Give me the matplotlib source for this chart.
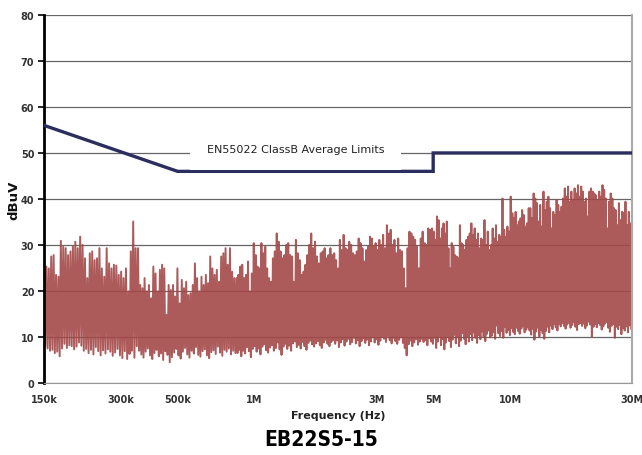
"""
Conducted emission scan of EB22S5-15 against the EN55022 class B average limit.
"""

import matplotlib
matplotlib.use("Agg")
import matplotlib.pyplot as plt
from matplotlib.ticker import FixedLocator, NullLocator
import numpy as np

# --- data --------------------------------------------------------------------
# limit line (Hz, dBuV)
limit_freq = [150e3, 500e3, 5e6, 5e6, 30e6]
limit_level = [56, 46, 46, 50, 50]

# scan split into bands; each band holds alternating peak / trough readings
band_edges = [150e3, 350e3, 850e3, 2.05e6, 4.95e6, 12e6, 30e6]

peaks = [
    [27.1, 25.3, 24.9, 27.5, 27.8, 23.5, 23.1, 30.9, 29.6, 29.3, 27.8, 28.6, 29.6,
     30.7, 29.3, 31.8, 30.0, 27.1, 22.8, 28.2, 28.6, 26.7, 27.1, 29.3, 24.9, 23.1,
     29.3, 26.0, 24.9, 25.7, 25.5, 23.5, 24.2, 22.8, 24.9, 19.9, 28.6, 35.1, 29.3],
    [29.3, 21.3, 20.6, 22.8, 19.9, 21.3, 18.4, 25.3, 23.8, 19.9, 24.6, 25.7, 24.9,
     14.8, 21.3, 20.2, 21.3, 18.8, 24.9, 17.3, 22.4, 20.6, 22.0, 19.1, 19.5, 21.3,
     26.0, 22.8, 19.9, 23.1, 21.3, 23.5, 21.7, 27.5, 24.9, 23.5, 24.6, 22.0, 27.5,
     28.2, 29.3, 25.7, 29.3, 24.2, 22.8],
    [22.8, 23.5, 25.3, 25.7, 22.8, 23.5, 26.4, 19.9, 23.8, 30.4, 27.8, 25.3, 24.9,
     30.4, 28.2, 29.6, 24.9, 22.8, 22.0, 27.1, 28.6, 32.5, 30.7, 28.6, 27.1, 27.8,
     30.0, 30.4, 27.8, 27.5, 22.0, 31.1, 28.2, 26.7, 23.5, 24.2, 25.7, 27.8, 30.0,
     32.5, 29.3, 30.7, 27.5, 26.0, 28.2, 28.6, 29.3, 27.1, 27.8, 29.3, 27.8],
    [28.2, 26.7, 24.9, 31.1, 28.9, 32.2, 29.3, 28.9, 30.7, 30.0, 28.2, 27.8, 28.6,
     31.4, 30.4, 29.3, 26.4, 28.9, 29.6, 31.8, 31.4, 29.6, 30.4, 28.9, 31.1, 30.0,
     32.2, 29.3, 34.3, 32.5, 33.3, 30.0, 31.1, 28.2, 31.4, 28.9, 28.6, 24.9, 20.6,
     29.3, 32.9, 32.5, 31.8, 31.1, 29.6, 24.9, 31.4, 32.9, 30.4, 30.0, 33.6, 33.3],
    [33.6, 32.9, 31.1, 36.2, 35.4, 31.4, 33.6, 34.7, 32.5, 35.1, 29.3, 24.9, 30.4,
     29.6, 27.8, 27.5, 27.1, 34.3, 30.4, 30.0, 28.9, 31.1, 31.8, 32.5, 34.7, 32.2,
     33.6, 31.1, 32.5, 29.3, 31.4, 31.1, 35.4, 30.0, 32.9, 28.9, 30.0, 33.6, 31.4,
     34.3, 30.7, 32.2, 31.8, 40.1, 33.3, 31.8, 34.0, 32.9, 40.5, 36.9, 35.8, 37.2,
     34.3, 35.1, 35.8, 37.6, 36.5, 34.0, 34.7, 38.0],
    [38.0, 35.8, 41.2, 40.1, 39.1, 35.1, 38.7, 34.0, 41.6, 37.6, 39.4, 40.5, 38.0,
     33.6, 37.2, 36.5, 39.8, 38.7, 37.2, 38.3, 40.1, 42.3, 40.5, 42.7, 39.4, 41.6,
     39.8, 42.3, 41.2, 43.0, 40.5, 42.7, 41.6, 39.4, 40.1, 36.2, 41.6, 42.3, 41.6,
     41.2, 40.8, 39.8, 41.6, 40.5, 43.0, 42.0, 40.1, 33.6, 39.4, 41.2, 40.1, 38.0,
     37.6, 34.3, 39.1, 35.4, 37.2, 36.9, 39.4, 34.3, 37.2, 34.7],
]

troughs = [
    [8.0, 7.5, 7.0, 7.2, 6.5, 6.8, 5.8, 7.5, 8.5, 7.6, 8.2, 8.0, 7.3, 7.9, 8.8, 8.1,
     7.0, 7.4, 6.5, 7.2, 6.2, 7.8, 6.9, 6.0, 7.1, 6.4, 7.3, 6.8, 5.9, 6.6, 7.4, 6.0,
     5.4, 6.9, 5.2, 6.3, 7.0, 5.5, 8.0],
    [7.0, 6.2, 5.5, 6.8, 7.5, 6.0, 5.2, 6.5, 7.2, 5.8, 6.4, 5.0, 6.9, 6.1, 4.5, 5.6,
     6.6, 7.4, 6.0, 5.3, 6.8, 7.6, 6.2, 5.5, 7.0, 6.4, 7.8, 6.1, 5.7, 6.9, 7.3, 6.0,
     5.4, 6.7, 7.1, 6.3, 7.9, 6.6, 5.9, 7.2, 6.8, 7.5, 6.2, 7.0, 6.5],
    [6.5, 7.2, 5.8, 7.0, 6.4, 7.8, 6.9, 5.6, 7.4, 8.0, 6.8, 7.5, 6.2, 7.9, 8.4, 7.1,
     6.6, 7.7, 8.2, 7.0, 7.6, 8.8, 7.3, 6.1, 7.9, 8.5, 7.4, 8.1, 7.0, 8.6, 9.0, 7.8,
     8.3, 7.5, 8.9, 8.0, 7.2, 8.7, 9.2, 8.4, 7.9, 8.6, 9.1, 8.2, 7.6, 8.8, 9.4, 8.5,
     8.0, 8.9, 9.3],
    [8.5, 9.2, 7.8, 8.8, 9.5, 8.1, 9.0, 9.6, 8.4, 8.9, 9.8, 8.6, 9.3, 8.0, 9.1, 9.7,
     8.7, 9.4, 8.2, 9.0, 9.9, 8.8, 9.5, 8.3, 9.2, 10.0, 9.6, 8.9, 10.2, 9.3, 8.6, 9.8,
     9.1, 8.5, 9.4, 9.9, 8.7, 7.6, 6.0, 8.4, 9.2, 8.0, 8.8, 9.5, 8.3, 9.0, 9.6, 8.9,
     9.3, 8.2, 9.7, 9.0],
    [8.5, 9.8, 7.6, 9.0, 10.2, 8.2, 9.5, 7.3, 8.8, 10.0, 9.1, 7.8, 9.4, 10.5, 8.6,
     9.9, 8.0, 9.2, 10.8, 9.6, 8.4, 10.1, 9.0, 10.6, 9.3, 11.0, 9.8, 8.7, 10.4, 9.5,
     11.2, 10.0, 9.1, 10.7, 11.4, 9.9, 10.3, 11.0, 9.6, 12.5, 10.8, 10.2, 11.3, 9.8,
     12.2, 10.9, 11.5, 10.4, 11.9, 11.1, 10.6, 12.0, 11.3, 10.7, 11.8, 12.3, 11.0,
     11.6, 12.1, 11.4],
    [10.5, 11.8, 9.4, 11.2, 12.0, 10.1, 11.5, 10.8, 9.6, 11.3, 12.2, 11.0, 12.5, 11.7,
     12.8, 12.1, 11.4, 12.9, 12.3, 13.0, 12.4, 11.8, 12.7, 13.1, 12.0, 12.6, 13.2,
     12.2, 11.5, 12.8, 13.0, 12.4, 12.9, 11.9, 12.5, 13.3, 12.7, 10.0, 12.2, 12.8,
     12.1, 13.0, 12.6, 11.6, 12.3, 12.9, 13.2, 12.0, 11.1, 12.4, 12.8, 9.8, 12.2,
     11.7, 12.6, 10.6, 12.0, 11.4, 12.3, 11.0, 12.5, 11.8],
]

x_ticks = [150e3, 300e3, 500e3, 1e6, 3e6, 5e6, 10e6, 30e6]
x_tick_labels = ["150k", "300k", "500k", "1M", "3M", "5M", "10M", "30M"]
y_ticks = [0, 10, 20, 30, 40, 50, 60, 70, 80]

limit_label = "EN55022 ClassB Average Limits"
title = "EB22S5-15"

# --- build the sweep: scan points are log-spaced inside each band -------------
scan_f, scan_v = [], []
for i, (hi, lo) in enumerate(zip(peaks, troughs)):
    vals = [v for pair in zip(hi, lo) for v in pair]
    f = np.geomspace(band_edges[i], band_edges[i + 1], len(vals), endpoint=False)
    scan_f.extend(f)
    scan_v.extend(vals)

# --- plot ---------------------------------------------------------------------
fig = plt.figure(figsize=(6.42, 4.56), dpi=100)
ax = fig.add_axes([0.0685, 0.158, 0.916, 0.807])

ax.plot(scan_f, scan_v, color="#a34848", lw=1.4, alpha=0.9, zorder=2)
ax.plot(limit_freq, limit_level, color="#2b2d5e", lw=2.4, zorder=4,
        solid_joinstyle="miter")

ax.set_xscale("log")
ax.set_xlim(150e3, 30e6)
ax.set_ylim(0, 80)
ax.xaxis.set_major_locator(FixedLocator(x_ticks))
ax.xaxis.set_minor_locator(NullLocator())
ax.set_xticklabels(x_tick_labels)
ax.set_yticks(y_ticks)

ax.set_axisbelow(True)
ax.yaxis.grid(True, color="#666666", lw=0.9)

ax.spines["top"].set_visible(False)
ax.spines["left"].set_color("black")
ax.spines["left"].set_linewidth(2)
ax.spines["bottom"].set_color("#999999")
ax.spines["right"].set_color("#aaaaaa")
ax.spines["right"].set_linewidth(1.5)

ax.tick_params(axis="x", length=0, pad=8, labelsize=7, labelcolor="#333333")
ax.tick_params(axis="y", length=4, width=1.2, pad=3, labelsize=7,
               labelcolor="#333333")
for lab in ax.get_xticklabels() + ax.get_yticklabels():
    lab.set_fontweight("bold")

ax.set_xlabel("Frequency (Hz)", fontsize=8, fontweight="bold", color="#222222",
              labelpad=4)
ax.set_ylabel("dBuV", fontsize=9.5, fontweight="bold", color="#111111",
              labelpad=0)

ax.text(1.45e6, 50.9, limit_label, ha="center", va="center", fontsize=8,
        color="#222222", zorder=5,
        bbox=dict(facecolor="white", edgecolor="none", pad=12))

fig.text(0.5, 0.035, title, ha="center", va="center", fontsize=15,
         fontweight="bold",
         family=["Liberation Sans Narrow", "DejaVu Sans Condensed", "DejaVu Sans"],
         fontstretch="condensed", color="black")

fig.savefig("out.png", dpi=100)
